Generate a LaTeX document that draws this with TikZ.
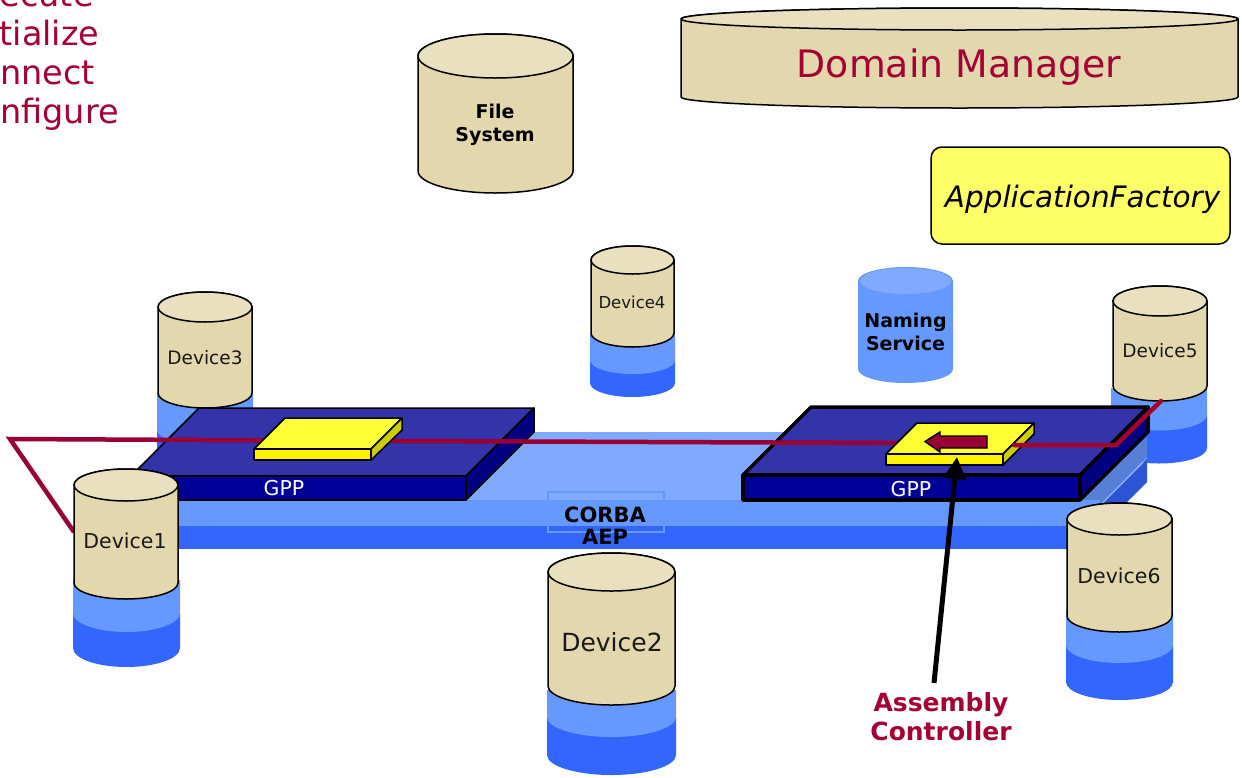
\documentclass[tikz,border=0pt]{standalone}
\usepackage{fontspec}
\setmainfont{DejaVu Sans}
\usetikzlibrary{arrows.meta}
\definecolor{tanbody}{HTML}{E3D7AE}
\definecolor{tantop}{HTML}{E9E0C0}
\definecolor{baselight}{HTML}{6699FF}
\definecolor{basedark}{HTML}{3366FF}
\definecolor{barface}{HTML}{80AAFF}
\definecolor{sidelight}{HTML}{5580D5}
\definecolor{sidedark}{HTML}{2B55D5}
\definecolor{gpptop}{HTML}{3333AA}
\definecolor{gppfront}{HTML}{000099}
\definecolor{gppside}{HTML}{000080}
\definecolor{yeltop}{HTML}{FFFF33}
\definecolor{yelside}{HTML}{CCCC00}
\definecolor{wine}{HTML}{990033}
\definecolor{winetext}{HTML}{A50034}
\definecolor{appfill}{HTML}{FFFF66}
\definecolor{namingtop}{HTML}{80AAFF}
\tikzset{
  outl/.style={draw=black,line width=1.5pt,line join=round},
  gppthin/.style={draw=black,line width=1.5pt,line join=round},
  gppthick/.style={draw=black,line width=3.5pt,line join=round},
  wireline/.style={draw=wine,line width=4.5pt,line join=miter},
  lbl/.style={inner sep=0pt,font=\fontsize{#1}{#1}\selectfont,text=black!90},
  lbl/.default=18,
  blbl/.style={inner sep=0pt,align=center,font=\fontsize{19}{23}\selectfont\bfseries},
  cliptext/.style={inner sep=0pt,anchor=base west,text=winetext,font=\fontsize{33.5}{33.5}\selectfont},
}
\newcommand{\cyl}[5]{%
  \pgfmathsetmacro{\rx}{(#2-#1)/2}
  \path[fill=tanbody,outl] (#1,#3) -- (#1,#4) arc (180:0:\rx\space and #5) -- (#2,#3) arc (0:-180:\rx\space and #5) -- cycle;
  \path[fill=tantop,outl] (#1,#3) arc (180:0:\rx\space and #5) arc (0:-180:\rx\space and #5) -- cycle;
}
\newcommand{\basecyl}[6]{%
  \pgfmathsetmacro{\rx}{(#2-#1)/2}
  \fill[basedark] (#1,#4) -- (#1,#5) arc (180:0:\rx\space and #6) -- (#2,#4) -- cycle;
  \fill[baselight] (#1,#3) -- (#1,#4) arc (180:0:\rx\space and #6) -- (#2,#3) -- cycle;
}
\begin{document}
\begin{tikzpicture}[x=1pt,y=-1pt]
\useasboundingbox (0,0) rectangle (1242,777);
\fill[white] (0,0) rectangle (1242,777);
% clipped text, top left
\node[cliptext] (t1) at (-0.5,6) {ecute};
\node[cliptext] (t2) at (-0.5,45) {tialize};
\node[cliptext] (t3) at (0,84) {nnect};
\node[cliptext] (t4) at (0,123) {nfigure};
% Domain Manager
\cyl{681}{1238}{19}{97}{11}
\node[inner sep=0pt,text=winetext,font=\fontsize{37.8}{38}\selectfont] (dm) at (959,67) {Domain Manager};
% File system
\cyl{418}{573}{56}{171}{22}
\node[blbl] (fs) at (495,125) {File\\System};
% App factory
\node[draw=black,line width=1.5pt,fill=appfill,rounded corners=11pt,minimum width=299pt,minimum height=97pt,inner sep=0pt] (af) at (1080.5,195.5) {};
\node[inner sep=0pt,font=\fontsize{29.5}{30}\selectfont\itshape] (aft) at (1082.5,199) {ApplicationFactory};
% Naming service
\fill[baselight] (858,281) -- (858,369) arc (180:0:47.5 and 14) -- (953,281) arc (0:-180:47.5 and 14) -- cycle;
\fill[namingtop] (860,281) arc (180:0:45.5 and 13) arc (0:-180:45.5 and 13) -- cycle;
\node[blbl] (ns) at (905.5,332) {Naming\\Service};
% Back device bases and cylinders
\basecyl{157}{253}{393}{430}{458}{15}
\cyl{158}{252}{307}{393}{15}
\node[lbl=18.5] (d3) at (205,358) {Device3};
\basecyl{590}{675}{333}{360}{383}{14}
\cyl{591}{674}{260}{333}{14}
\node[lbl=16.5] (d4) at (632,302) {Device4};
\basecyl{1111}{1207}{388}{415}{448}{15.5}
\cyl{1113}{1207}{301}{386}{15}
\node[lbl=18.5] (d5) at (1160,351) {Device5};
% CORBA bar
\fill[barface] (178,500) -- (250,432) -- (1147,432) -- (1080,500) -- cycle;
\fill[sidelight] (1080,500) -- (1147,437) -- (1147,457) -- (1102,503) -- (1080,503) -- cycle;
\fill[sidedark] (1103,503) -- (1147,459) -- (1147,482) -- (1126,503) -- cycle;
\draw[barface,line width=1pt] (1102,503) -- (1147,458);
\fill[baselight] (150,500) rectangle (1100,526);
\fill[basedark] (150,526) rectangle (1080,549);
\draw[baselight,line width=1.2pt] (548,492) rectangle (664,532);
\node[blbl,font=\fontsize{21}{22}\selectfont\bfseries] (corba) at (605,526) {CORBA\\AEP};
% GPP 1
\path[fill=gpptop,gppthin] (199,408) -- (534,408) -- (466,476) -- (131,476) -- cycle;
\path[fill=gppfront,gppthin] (131,476) rectangle (466,500);
\path[fill=gppside,gppthin] (534,408) -- (534,432) -- (466,500) -- (466,476) -- cycle;
\node[lbl=20.5,text=white] (g1) at (284,488) {GPP};
% GPP 2
\path[fill=gpptop,gppthick] (811,407) -- (1148,407) -- (1080,475) -- (743,475) -- cycle;
\path[fill=gppfront,gppthick] (743,475) rectangle (1080,500);
\path[fill=gppside,gppthick] (1148,407) -- (1148,432) -- (1080,500) -- (1080,475) -- cycle;
\node[lbl=20.5,text=white] (g2) at (911,489) {GPP};
% Long wire
\coordinate (wa) at (74,532);
\coordinate (wb) at (10,439);
\coordinate (wc) at (400,441);
\coordinate (wd) at (900,443);
\draw[wireline] (wa) -- (wb) -- (wc) -- (wd);
% Yellow boxes
\path[fill=yeltop,gppthin] (285,418) -- (402,418) -- (371,449) -- (254,449) -- cycle;
\path[fill=yellow,gppthin] (254,449) rectangle (371,460);
\path[fill=yelside,gppthin] (402,418) -- (402,430) -- (371,460) -- (371,449) -- cycle;
\path[fill=yeltop,gppthin] (917,423) -- (1034,423) -- (1003,454) -- (886,454) -- cycle;
\path[fill=yellow,gppthin] (886,454) rectangle (1003,465);
\path[fill=yelside,gppthin] (1034,423) -- (1034,434) -- (1003,465) -- (1003,454) -- cycle;
% Block arrow
\path[fill=wine,draw=black,line width=1.4pt,line join=miter] (925,441.5) -- (940,432) -- (940,436) -- (987,436) -- (987,448) -- (940,448) -- (940,452) -- cycle;
% Right wire
\coordinate (we) at (1014,445);
\coordinate (wf) at (1116,445);
\coordinate (wg) at (1161,401);
\draw[draw=wine!90!red,line width=4.5pt,line cap=round] (we) -- (wf) -- (wg);
% Assembly controller
\node[blbl,text=winetext,font=\fontsize{25}{29}\selectfont\bfseries,anchor=north] (ac) at (941,692) {Assembly\\Controller};
\coordinate (act) at (934,683);
\coordinate (boxfront) at (957,457);
\draw[black,line width=5pt,-{Triangle[length=22pt,width=22pt]}] (act) -- (boxfront);
% Front devices
\basecyl{73}{180}{580}{613}{648}{19}
\cyl{74}{178}{485}{583}{16}
\node[lbl=20.5] (d1) at (125,541) {Device1};
\basecyl{547}{676}{690}{717}{755}{20}
\cyl{548}{675}{572}{686}{19}
\node[lbl=25] (d2) at (612,642) {Device2};
\basecyl{1066}{1173}{610}{645}{682}{18}
\cyl{1067}{1172}{519}{616}{16}
\node[lbl=20.5] (d6) at (1119,576) {Device6};
\end{tikzpicture}
\end{document}
